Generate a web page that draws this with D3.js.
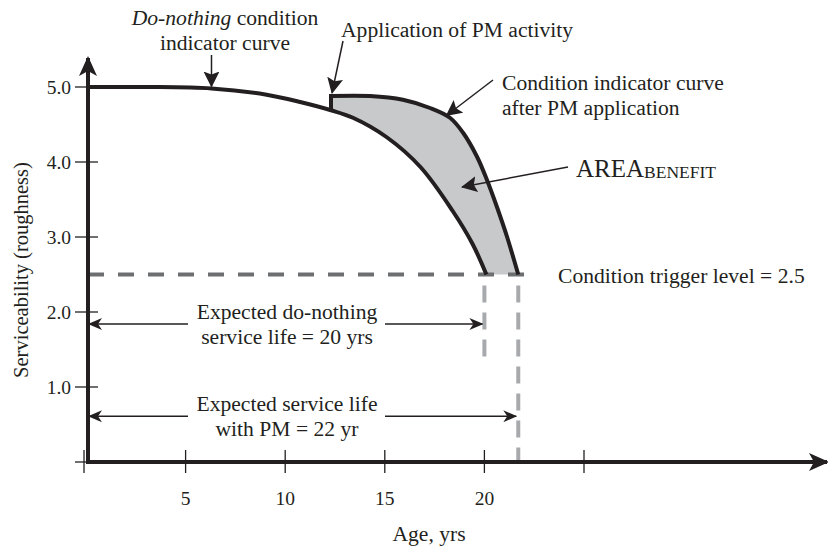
<!DOCTYPE html>
<html>
<head>
<meta charset="utf-8">
<script src="https://cdn.jsdelivr.net/npm/d3@7"></script>
<style>
  body { margin: 0; background: #fff; }
  text { font-family: "Liberation Serif", "DejaVu Serif", serif; fill: #231f20; }
</style>
</head>
<body>
<svg id="chart" width="828" height="548"></svg>
<script>
// values
var xTicks = [0, 5, 10, 15, 20, 25];
var xTickLabels = ["", "5", "10", "15", "20", ""];
var yTicks = [1, 2, 3, 4, 5];
var yTickLabels = ["1.0", "2.0", "3.0", "4.0", "5.0"];

// do-nothing condition indicator curve
var dnAge = [0, 3, 6.3, 9, 10.75, 12.3, 13.4, 15.1, 16.8, 18.4, 19.4, 20.1];
var dnVal = [5.0, 5.0, 4.98, 4.9, 4.8, 4.69, 4.59, 4.33, 3.93, 3.35, 2.91, 2.5];

// curve after PM application
var pmAge = [12.3, 14.26, 15.91, 17.27, 18.27, 18.93, 19.63, 20.13, 20.63, 21.14, 21.7];
var pmVal = [4.88, 4.88, 4.83, 4.72, 4.59, 4.39, 4.07, 3.76, 3.40, 3.00, 2.5];

var triggerLevel = 2.5;
var lifeDoNothing = 20;
var lifeWithPM = 21.7;

var svg = d3.select("svg#chart");
var fs = 21.6;

var x = d3.scaleLinear().domain([0, 25]).range([86, 584]);
var y = d3.scaleLinear().domain([0, 5]).range([462, 87]);

var dn = dnAge.map(function (a, i) { return [a, dnVal[i]]; });
var pm = pmAge.map(function (a, i) { return [a, pmVal[i]]; });

var defs = svg.append("defs");
// big filled arrowhead for the axes
defs.append("marker").attr("id", "axisHead")
    .attr("viewBox", "0 0 20 20").attr("refX", 18).attr("refY", 10)
    .attr("markerWidth", 20).attr("markerHeight", 20)
    .attr("markerUnits", "userSpaceOnUse").attr("orient", "auto")
  .append("path").attr("d", "M0,1 L20,10 L0,19 L5,10 Z").attr("fill", "#231f20");
// annotation arrowhead
defs.append("marker").attr("id", "noteHead")
    .attr("viewBox", "0 0 16 16").attr("refX", 15).attr("refY", 8)
    .attr("markerWidth", 16).attr("markerHeight", 16)
    .attr("markerUnits", "userSpaceOnUse").attr("orient", "auto")
  .append("path").attr("d", "M0,0 L16,8 L0,16 L3,8 Z").attr("fill", "#231f20");
// thin dimension arrowhead
defs.append("marker").attr("id", "dimHead")
    .attr("viewBox", "0 0 14 12").attr("refX", 13).attr("refY", 6)
    .attr("markerWidth", 14).attr("markerHeight", 12)
    .attr("markerUnits", "userSpaceOnUse").attr("orient", "auto")
  .append("path").attr("d", "M0,0 L14,6 L0,12 L4,6 Z").attr("fill", "#231f20");

var line = d3.line()
    .x(function (d) { return x(d[0]); })
    .y(function (d) { return y(d[1]); })
    .curve(d3.curveCatmullRom.alpha(0.5));

// shaded benefit area: PM curve forward, do-nothing curve back
var dnTail = dn.filter(function (d) { return d[0] >= pmAge[0]; });
var areaPath = line(pm) + "L" + line(dnTail.slice().reverse()).slice(1) + "Z";
svg.append("path").attr("d", areaPath).attr("fill", "#c8c9cb");

// trigger level dashed line
svg.append("line")
    .attr("x1", x(0) + 2).attr("x2", x(22.6))
    .attr("y1", y(triggerLevel)).attr("y2", y(triggerLevel))
    .attr("stroke", "#6d6e70").attr("stroke-width", 4)
    .attr("stroke-dasharray", "16,14");

// service life drop lines
svg.append("line")
    .attr("x1", x(lifeDoNothing)).attr("x2", x(lifeDoNothing))
    .attr("y1", y(triggerLevel) + 11).attr("y2", y(1.3))
    .attr("stroke", "#a7a9ac").attr("stroke-width", 4)
    .attr("stroke-dasharray", "17,10");
svg.append("line")
    .attr("x1", x(lifeWithPM)).attr("x2", x(lifeWithPM))
    .attr("y1", y(triggerLevel) + 11).attr("y2", y(0))
    .attr("stroke", "#a7a9ac").attr("stroke-width", 4)
    .attr("stroke-dasharray", "17,10");

// curves
svg.append("path").attr("d", line(dn)).attr("fill", "none")
    .attr("stroke", "#231f20").attr("stroke-width", 4);
svg.append("path").attr("d", line(pm)).attr("fill", "none")
    .attr("stroke", "#231f20").attr("stroke-width", 4);
svg.append("line")
    .attr("x1", x(pmAge[0])).attr("x2", x(pmAge[0]))
    .attr("y1", y(dnVal[5]) + 1).attr("y2", y(pmVal[0]) - 2)
    .attr("stroke", "#231f20").attr("stroke-width", 4);

// axes
svg.append("line")
    .attr("x1", 88).attr("x2", 88).attr("y1", y(0) + 2).attr("y2", 58)
    .attr("stroke", "#231f20").attr("stroke-width", 4)
    .attr("marker-end", "url(#axisHead)");
svg.append("line")
    .attr("x1", 86).attr("x2", 827).attr("y1", y(0)).attr("y2", y(0))
    .attr("stroke", "#231f20").attr("stroke-width", 4)
    .attr("marker-end", "url(#axisHead)");

// x ticks
var xt = svg.append("g");
xTicks.forEach(function (t, i) {
    xt.append("line")
        .attr("x1", x(t) - (t === 0 ? 2 : 0)).attr("x2", x(t) - (t === 0 ? 2 : 0))
        .attr("y1", y(0) - 12).attr("y2", y(0) + 11)
        .attr("stroke", "#231f20").attr("stroke-width", 1.3);
    xt.append("text").attr("x", x(t)).attr("y", 505)
        .attr("text-anchor", "middle").attr("font-size", 19.5)
        .text(xTickLabels[i]);
});
// y ticks
var yt = svg.append("g");
yt.append("line").attr("x1", 75).attr("x2", 90).attr("y1", y(0)).attr("y2", y(0))
    .attr("stroke", "#231f20").attr("stroke-width", 1.3);
yTicks.forEach(function (t, i) {
    yt.append("line").attr("x1", 75).attr("x2", 98)
        .attr("y1", y(t)).attr("y2", y(t))
        .attr("stroke", "#231f20").attr("stroke-width", 1.3);
    yt.append("text").attr("x", 71).attr("y", y(t) + 7)
        .attr("text-anchor", "end").attr("font-size", 19.5)
        .text(yTickLabels[i]);
});

// axis titles
svg.append("text").attr("x", 429).attr("y", 541)
    .attr("text-anchor", "middle").attr("font-size", fs).text("Age, yrs");
svg.append("text")
    .attr("transform", "translate(28,270) rotate(-90)")
    .attr("text-anchor", "middle").attr("font-size", 20.5)
    .text("Serviceability (roughness)");

// annotations
function note(x1, y1, x2, y2) {
    svg.append("line").attr("x1", x1).attr("y1", y1).attr("x2", x2).attr("y2", y2)
        .attr("stroke", "#231f20").attr("stroke-width", 1.5)
        .attr("marker-end", "url(#noteHead)");
}

var t1 = svg.append("text").attr("x", 225).attr("y", 25)
    .attr("text-anchor", "middle").attr("font-size", fs);
t1.append("tspan").attr("font-style", "italic").text("Do-nothing");
t1.append("tspan").text(" condition");
svg.append("text").attr("x", 225).attr("y", 50)
    .attr("text-anchor", "middle").attr("font-size", fs).text("indicator curve");
note(x(6.3), 55, x(6.3), y(4.98) - 2);

svg.append("text").attr("x", 341).attr("y", 37).attr("font-size", fs)
    .text("Application of PM activity");
note(343, 41, x(pmAge[0]) + 1, y(pmVal[0]) - 3);

svg.append("text").attr("x", 502).attr("y", 90).attr("font-size", fs)
    .text("Condition indicator curve");
svg.append("text").attr("x", 502).attr("y", 115).attr("font-size", fs)
    .text("after PM application");
note(493, 80, x(18.1), y(4.62));

var t2 = svg.append("text").attr("x", 576).attr("y", 177).attr("font-size", 25);
t2.append("tspan").text("AREA");
t2.append("tspan").attr("font-size", 17.5).attr("dy", 1).text("BENEFIT");
note(568, 167, 462, 187);

svg.append("text").attr("x", 558).attr("y", 283).attr("font-size", fs)
    .text("Condition trigger level = 2.5");

// service life dimension arrows
function dim(yv, xEnd, lines) {
    var yy = y(yv);
    svg.append("line").attr("x1", 188).attr("x2", x(0) + 3).attr("y1", yy).attr("y2", yy)
        .attr("stroke", "#231f20").attr("stroke-width", 1.5)
        .attr("marker-end", "url(#dimHead)");
    svg.append("line").attr("x1", 385).attr("x2", xEnd - 2).attr("y1", yy).attr("y2", yy)
        .attr("stroke", "#231f20").attr("stroke-width", 1.5)
        .attr("marker-end", "url(#dimHead)");
    lines.forEach(function (s, i) {
        svg.append("text").attr("x", 287).attr("y", yy - 5 + i * 25)
            .attr("text-anchor", "middle").attr("font-size", fs).text(s);
    });
}
dim(1.84, x(lifeDoNothing), ["Expected do-nothing", "service life = 20 yrs"]);
dim(0.61, x(lifeWithPM), ["Expected service life", "with PM = 22 yr"]);
</script>
</body>
</html>
